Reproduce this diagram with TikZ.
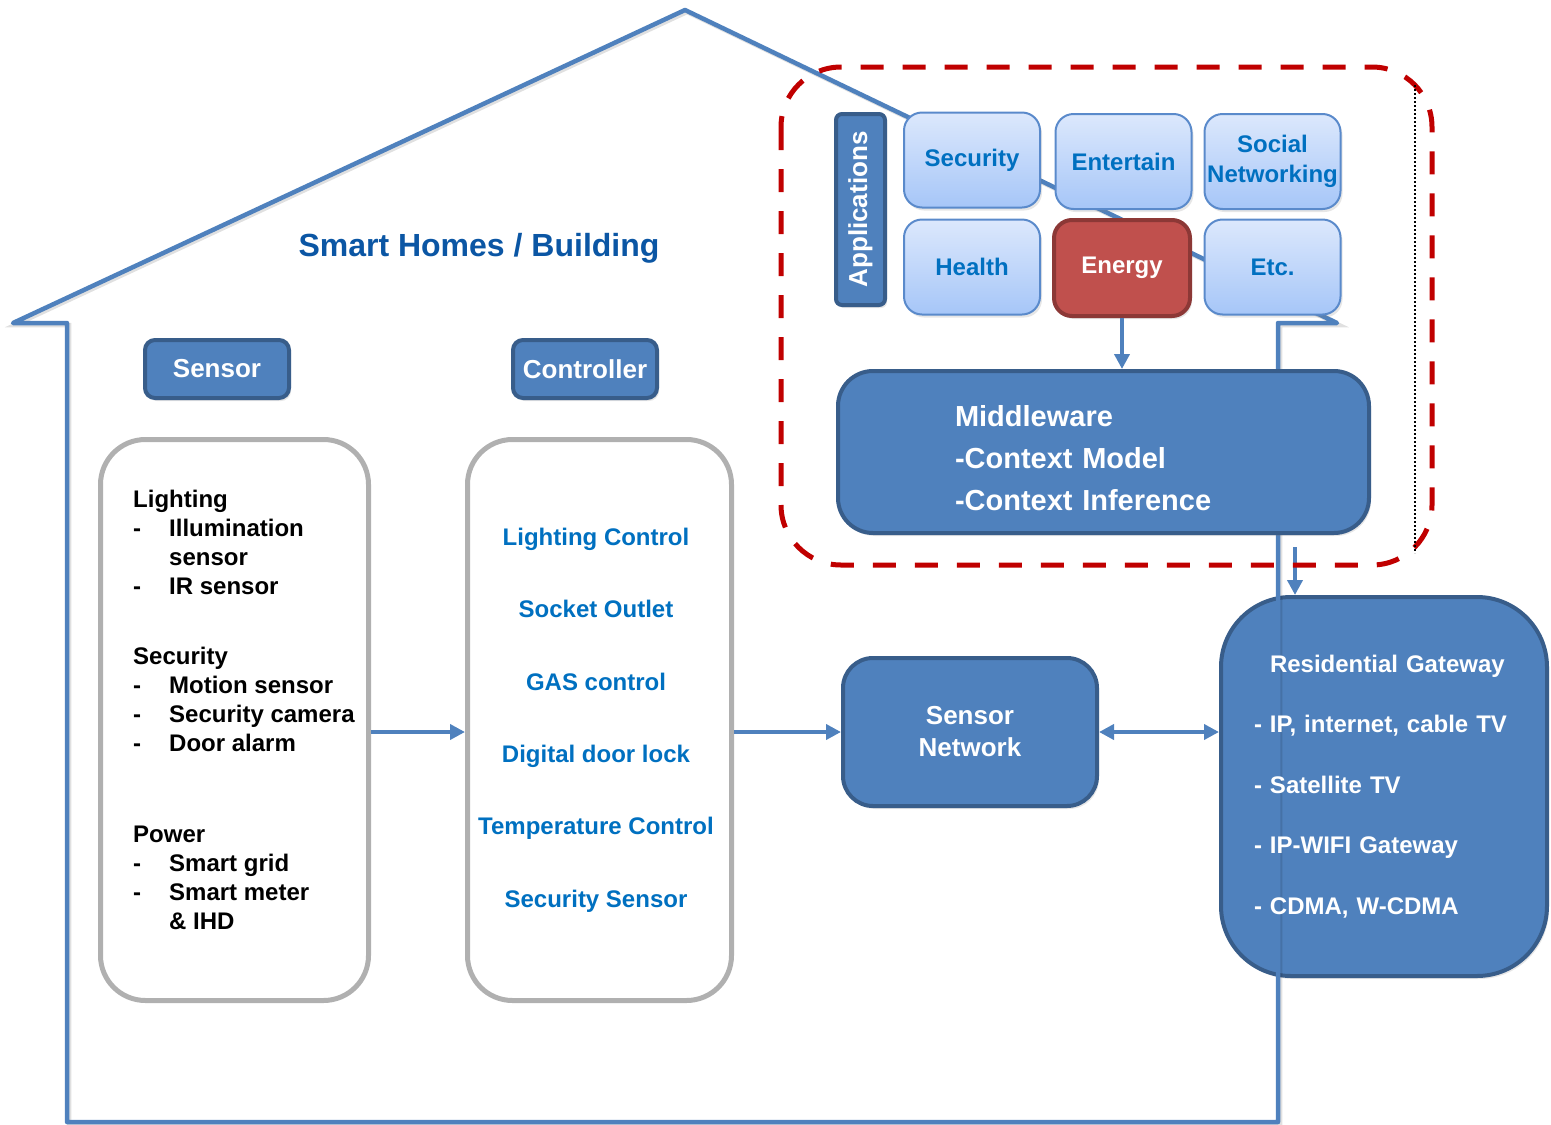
\documentclass[tikz,border=0pt]{standalone}
\usepackage{fontspec}
\setmainfont{Liberation Sans}
\usetikzlibrary{arrows.meta,shadows}

\definecolor{boxblue}{HTML}{4F81BD}
\definecolor{boxedge}{HTML}{385D8A}
\definecolor{textblue}{HTML}{0070C0}
\definecolor{titleblue}{HTML}{0B56A4}
\definecolor{lighttop}{HTML}{DCE8FC}
\definecolor{lightbot}{HTML}{A6C6F8}
\definecolor{appedge}{HTML}{5A8ACB}
\definecolor{energyred}{HTML}{C0504D}
\definecolor{energyedge}{HTML}{8C3836}
\definecolor{listgray}{HTML}{B0B0B0}
\definecolor{dashred}{HTML}{C00000}

% one sensor item with a dash in front
\newcommand{\litem}[1]{\makebox[36pt][l]{-}#1}

\begin{document}
\begin{tikzpicture}[
    % pixel-like units, y grows downwards
    x=1pt, y=-1pt,
    softshadow/.style={drop shadow={opacity=0.2, shadow xshift=2pt, shadow yshift=-3pt}},
    darkbox/.style={draw=boxedge, line width=4pt, fill=boxblue, text=white,
        rounded corners=#1, inner sep=0pt, softshadow},
    darkbox/.default=10pt,
    appbox/.style={draw=appedge, line width=2pt, top color=lighttop, bottom color=lightbot,
        rounded corners=18pt, text=textblue, minimum width=136pt, minimum height=95pt,
        align=center, inner sep=0pt, font={\fontsize{24}{30}\selectfont\bfseries}, softshadow},
    energybox/.style={draw=energyedge, line width=4pt, fill=energyred, text=white,
        rounded corners=18pt, minimum width=136pt, minimum height=96pt,
        inner sep=0pt, font={\fontsize{24}{30}\selectfont\bfseries}, softshadow},
    listbox/.style={draw=listgray, line width=5pt, rounded corners=45pt,
        minimum width=268pt, minimum height=561pt},
    arr/.style={draw=boxblue, line width=4pt, -{Triangle[length=15pt,width=15pt]}},
    darr/.style={arr, {Triangle[length=15pt,width=15pt]}-{Triangle[length=15pt,width=15pt]}},
    house/.style={draw=boxblue, line width=4.5pt, line join=round,
        preaction={draw=black, draw opacity=0.12, line width=4.5pt,
                   transform canvas={xshift=2pt, yshift=-2pt}}}
]
    \useasboundingbox (0,0) rectangle (1551,1125);

    % --- Gateway sits under the house wall ---
    \node[darkbox=70pt, minimum width=326pt, minimum height=379pt] (gateway) at (1384,786.5) {};

    % --- House outline ---
    \draw[house] (13,323) -- (685,10) -- (1337,323) -- (1278,323) -- (1278,1122)
        -- (67,1122) -- (67,323) -- cycle;

    \node[text width=260pt, align=left, text=white, inner sep=0pt,
          font={\fontsize{24}{60.5}\selectfont\bfseries}] (gatewaytext) at (gateway.center)
          {\hspace*{16pt}Residential Gateway\\- IP, internet, cable TV\\- Satellite TV\\- IP-WIFI Gateway\\- CDMA, W-CDMA};

    \node[text=titleblue, font={\fontsize{32}{36}\selectfont\bfseries}] (title) at (479,248) {Smart Homes / Building};

    % --- Applications ---
    \node[darkbox=6pt, rotate=90, minimum width=191pt, minimum height=49pt,
          font={\fontsize{26}{30}\selectfont\bfseries}] (apps) at (860.5,209.5) {Applications};

    \node[appbox] (security) at (972,160) {Security};
    \node[appbox] (entertain) at (1123.5,161.5) {Entertain};
    \node[appbox] (social) at (1272.5,161.5) {Social\\Networking};
    \node[appbox] (health) at (972,267) {Health};
    \node[energybox] (energy) at (1122,268) {Energy};
    \node[appbox] (etc) at (1272.5,267) {Etc.};

    % --- Middleware ---
    \node[darkbox=35pt, minimum width=531pt, minimum height=162pt, text width=297pt,
          inner xsep=117pt, align=left, font={\fontsize{29}{42}\selectfont\bfseries}]
          (middleware) at (1103.5,452)
          {\rule{0pt}{33pt}Middleware\\-Context Model\\-Context Inference};

    % --- Sensor and controller columns ---
    \node[darkbox, minimum width=144pt, minimum height=58pt,
          font={\fontsize{26}{30}\selectfont\bfseries}] (sensorhead) at (217,369) {Sensor};
    \node[darkbox, minimum width=144pt, minimum height=58pt,
          font={\fontsize{26}{30}\selectfont\bfseries}] (ctrlhead) at (585,369) {Controller};

    \node[listbox] (sensorbox) at (234.5,720) {};
    \node[listbox, minimum width=264pt] (ctrlbox) at (599.5,720) {};

    \node[anchor=north west, align=left, inner sep=0pt,
          font={\fontsize{24}{29}\selectfont\bfseries}] (sensortext) at (133,490)
        {Lighting\\
         \litem{Illumination}\\
         \hspace*{36pt}sensor\\
         \litem{IR sensor}\\[41pt]
         Security\\
         \litem{Motion sensor}\\
         \litem{Security camera}\\
         \litem{Door alarm}\\[62pt]
         Power\\
         \litem{Smart grid}\\
         \litem{Smart meter}\\
         \hspace*{36pt}\& IHD};

    \node[align=center, text=textblue, font={\fontsize{24}{72.4}\selectfont\bfseries}]
        (ctrltext) at (596,720)
        {Lighting Control\\Socket Outlet\\GAS control\\Digital door lock\\Temperature Control\\Security Sensor};

    \node[darkbox=30pt, minimum width=254pt, minimum height=148pt, align=center,
          font={\fontsize{26}{32}\selectfont\bfseries}] (sensnet) at (970,732) {Sensor\\Network};

    % --- Arrows ---
    \draw[arr] (sensorbox.east |- sensnet.west) -- (ctrlbox.west |- sensnet.west);
    \draw[arr] (ctrlbox.east |- sensnet.west) -- (sensnet.west);
    \draw[darr] (sensnet.east) -- (sensnet.east -| gateway.west);
    \draw[arr] (energy.south) -- (energy.south |- middleware.north);
    \coordinate (mwout) at (1295,547);
    \draw[arr] (mwout) -- (mwout |- gateway.north);

    % --- Dashed frame round the application layer ---
    \draw[dashred, line width=5pt, dash pattern=on 23pt off 19pt, rounded corners=60pt]
        (781,67) rectangle (1432,565);
    \draw[black, line width=2pt, dotted] (1415,85) -- (1415,553);
\end{tikzpicture}
\end{document}
